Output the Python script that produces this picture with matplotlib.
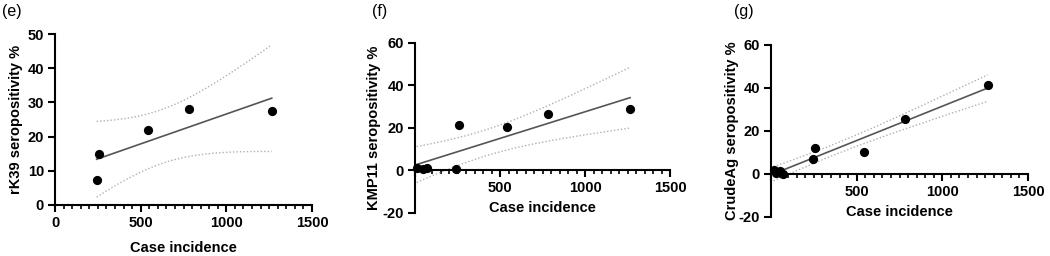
import numpy as np
import matplotlib
matplotlib.use("Agg")
import matplotlib.pyplot as plt
from matplotlib.ticker import MultipleLocator

plt.rcParams['font.family'] = ['Liberation Sans', 'DejaVu Sans']

# ---- data ----
x_e = [243, 257, 541, 781, 1265]
y_e = [7.2, 15.0, 21.9, 28.0, 27.5]

x_f = [10, 45, 68, 243, 257, 541, 781, 1265]
y_f = [1.2, 0.6, 1.0, 0.4, 21.2, 20.1, 26.4, 29.0]

x_g = [15, 28, 50, 70, 243, 257, 541, 781, 1265]
y_g = [1.6, 0.2, 1.5, 0.1, 6.8, 12.0, 10.2, 25.7, 41.3]

panels = ["(e)", "(f)", "(g)"]
ylabels = ["rK39 seropositivity %", "KMP11 seropositivity %", "CrudeAg seropositivity %"]
xlabel = "Case incidence"

# two-sided 95% t quantiles
T975 = {3: 3.182, 4: 2.776, 5: 2.571, 6: 2.447, 7: 2.365, 8: 2.306, 9: 2.262}

def fit(x, y):
    x = np.asarray(x, float); y = np.asarray(y, float)
    n = len(x)
    xm, ym = x.mean(), y.mean()
    sxx = ((x - xm) ** 2).sum()
    b = ((x - xm) * (y - ym)).sum() / sxx
    a = ym - b * xm
    res = y - (a + b * x)
    s = np.sqrt((res ** 2).sum() / (n - 2))
    xs = np.linspace(x.min(), x.max(), 200)
    yh = a + b * xs
    se = s * np.sqrt(1.0 / n + (xs - xm) ** 2 / sxx)
    t = T975[n - 2]
    return xs, yh, yh - t * se, yh + t * se

fig = plt.figure(figsize=(10.5, 2.56), dpi=100)

W, H = 1050, 256
def box(l, r, t, b):
    return [l / W, 1 - b / H, (r - l) / W, (b - t) / H]

axes_boxes = [box(55, 312, 34, 205), box(415, 670, 42.7, 212.7), box(771, 1028, 45, 216.7)]
ylims = [(0, 50), (-20, 60), (-20, 60)]
yticks = [np.arange(0, 51, 10), np.arange(-20, 61, 20), np.arange(-20, 61, 20)]
datas = [(x_e, y_e), (x_f, y_f), (x_g, y_g)]
panel_pos = [(2, 16), (372, 16), (734, 16)]
xlabel_y = [248, 208, 212]
ylabel_x = [16, 374, 732]

for i in range(3):
    ax = fig.add_axes(axes_boxes[i])
    x, y = datas[i]
    xs, yh, lo, hi = fit(x, y)
    ax.plot(xs, hi, color='#b0b0b0', lw=1.0, ls=(0, (1, 1.5)), zorder=2)
    ax.plot(xs, lo, color='#b0b0b0', lw=1.0, ls=(0, (1, 1.5)), zorder=2)
    ax.plot(xs, yh, color='#555555', lw=1.2, zorder=3)
    ax.scatter(x, y, s=44, color='black', zorder=4, clip_on=False, linewidths=0)

    ax.set_xlim(0, 1500)
    ax.set_ylim(*ylims[i])
    for s in ['top', 'right']:
        ax.spines[s].set_visible(False)
    ax.spines['left'].set_linewidth(1.5)
    ax.spines['bottom'].set_linewidth(1.5)
    ax.spines['bottom'].set_position(('data', 0))
    ax.spines['left'].set_position(('data', 0))

    ax.set_yticks(yticks[i])
    ax.set_yticklabels([str(v) for v in yticks[i]])
    ax.set_xticks([0, 500, 1000, 1500])
    if i == 0:
        ax.set_xticklabels(["0", "500", "1000", "1500"])
    else:
        ax.set_xticklabels(["", "500", "1000", "1500"])
    ax.xaxis.set_minor_locator(MultipleLocator(50))
    ax.tick_params(axis='both', which='major', direction='out', length=5, width=1.5,
                   labelsize=10.5, pad=3)
    ax.tick_params(axis='x', which='minor', direction='out', length=3, width=1.2)
    for lab in ax.get_xticklabels() + ax.get_yticklabels():
        lab.set_fontweight('bold')
    ax.patch.set_alpha(0)

    fig.text(panel_pos[i][0] / W, 1 - panel_pos[i][1] / H, panels[i], fontsize=11.5,
             ha='left', va='baseline')
    bb = axes_boxes[i]
    fig.text(bb[0] + bb[2] / 2, 1 - xlabel_y[i] / H, xlabel, fontsize=10.5, fontweight='bold',
             ha='center', va='center')
    fig.text(ylabel_x[i] / W, bb[1] + bb[3] / 2, ylabels[i], fontsize=10.5, fontweight='bold',
             ha='center', va='center', rotation=90)

fig.savefig("out.png", dpi=100)
